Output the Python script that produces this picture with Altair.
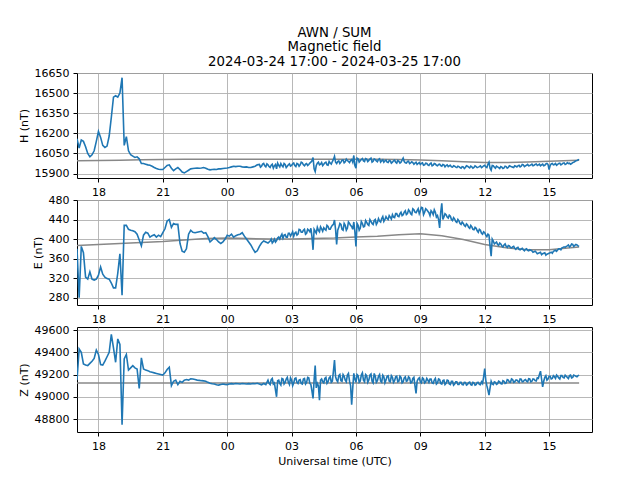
import altair as alt
import pandas as pd

START = "2024-03-24 17:00"
STEP_MIN = 6

H_VALUES = [
    16160, 16090, 16150, 16140, 16100, 16050, 16025, 16040, 16070, 16140,
    16215, 16170, 16110, 16095, 16105, 16180, 16320, 16470, 16480, 16470,
    16500, 16615, 16110, 16175, 16070, 16040, 16030, 16020, 16025, 16010,
    15975, 15975, 15970, 15965, 15962, 15955, 15945, 15938, 15932, 15930,
    15930, 15945, 15960, 15965, 15940, 15922, 15935, 15945, 15930, 15912,
    15905, 15915, 15925, 15935, 15938, 15940, 15942, 15940, 15942, 15945,
    15940, 15932, 15928, 15930, 15932, 15930, 15935, 15935, 15938, 15940,
    15942, 15945, 15950, 15955, 15952, 15955, 15955, 15950, 15948, 15950,
    15945, 15945, 15950, 15955, 15965,
    15968, 15955, 15975, 15950, 15965, 15945, 15970, 15958, 15935, 15962, 15975, 15950, 15968, 15955, 15972,
    15960, 15978, 15952, 15970, 15965, 15980, 15958, 15975, 15968, 15985, 16020, 15915, 15978, 15965, 15982,
    15970, 15985, 15962, 15978, 15990, 16028, 15975, 15995, 15985, 16002, 15988, 15998, 15982, 16005, 16035,
    15940, 16010, 15995, 16012, 15990, 16008, 15998, 16015, 15992, 16005, 15988, 16010, 15995, 15985, 16000,
    15982, 15995, 15985, 16000, 15978, 15992, 15985, 16015, 15980, 15990, 15975, 15988, 15970, 15985, 15975,
    15968, 15980, 15965, 15975, 15960, 15978, 15962, 15972, 15958, 15970, 15955, 15965, 15960, 15952, 15962,
    15948, 15955, 15945, 15952, 15940, 15950, 15945, 15955, 15942, 15950, 15945, 15952, 15948, 15958, 15950,
    15962, 15945, 15985, 15925, 15958, 15940, 15950, 15938, 15948, 15942, 15952, 15945, 15955, 15948, 15958,
    15950, 15962, 15955, 15965, 15958, 15968, 15960, 15970, 15962, 15972, 15965, 15958, 15970, 15962, 15975,
    15930, 15972, 15965, 15975, 15968, 15978, 15970, 15980, 15972, 15975, 15970, 15982, 15990, 15998, 16006,
]
# readings between samples (3 min after sample i), from sample H_MID_START on
H_MID_START = 85
H_MID = [
    15948, 15970, 15958, 15972, 15952, 15962, 15940, 15968, 15978, 15950, 15960, 15975, 15945, 15965, 15955,
    15972, 15960, 15975, 15955, 15985, 15965, 15970, 15960, 15978, 15995, 15935, 15960, 15985, 15970, 15960,
    15980, 15965, 15990, 15970, 16005, 15985, 15990, 15975, 16000, 15980, 16008, 15990, 15998, 15985, 15960,
    16015, 15985, 16005, 15995, 16012, 15990, 16008, 15985, 16010, 15995, 16005, 15985, 16002, 15995, 15985,
    15998, 15978, 15995, 15985, 15998, 15978, 16000, 15990, 15978, 15992, 15980, 15982, 15978, 15968, 15982,
    15975, 15962, 15978, 15965, 15972, 15958, 15975, 15962, 15968, 15960, 15968, 15950, 15965, 15958, 15950,
    15958, 15948, 15955, 15945, 15952, 15938, 15958, 15948, 15955, 15940, 15958, 15945, 15952, 15945, 15958,
    15950, 15970, 15940, 15960, 15948, 15955, 15945, 15952, 15938, 15955, 15940, 15958, 15950, 15945, 15955,
    15958, 15950, 15968, 15952, 15962, 15958, 15965, 15958, 15968, 15960, 15970, 15965, 15958, 15972, 15968,
    15960, 15975, 15968, 15962, 15975, 15965, 15978, 15968, 15982, 15978, 15975, 15985, 15995, 16002,
]

E_VALUES = [
    380, 280, 385, 372, 322, 318, 333, 318, 316, 318,
    326, 343, 328, 322, 319, 318, 310, 300, 300, 330,
    370, 285, 428, 428, 420, 418, 417, 415, 410, 398,
    386, 408, 414, 412, 404, 407, 409, 404, 408, 405,
    413, 421, 437, 440, 424, 432, 430, 430, 391, 375,
    373, 380, 410, 418, 414, 413, 414, 415, 416, 412,
    413, 405, 394, 398, 403, 399, 394, 391, 394, 400,
    408, 406, 410, 404, 407, 409, 410, 413, 406, 400,
    394, 388, 380, 373, 376, 385, 392, 396, 394, 392,
    396, 392, 400, 397, 404, 406, 402, 409, 404, 412, 410, 406, 414, 410, 419,
    414, 420, 412, 418, 422, 378, 416, 424, 415, 421, 423, 418, 426, 420, 428,
    439, 389, 424, 430, 418, 428, 422, 432, 426, 435, 385, 428, 422, 432, 426,
    434, 428, 436, 430, 440, 434, 437, 442, 436, 446, 440, 445, 450, 444, 452,
    446, 455, 450, 458, 452, 457, 450, 460, 454, 462, 458, 464, 455, 460, 454,
    458, 450, 455, 448, 423, 473, 445, 450, 443, 447, 438, 441, 434, 437, 430,
    432, 426, 429, 422, 425, 419, 422, 414, 418, 410, 413, 405, 408, 365, 396,
    392, 389, 392, 386, 388, 385, 387, 383, 384, 381, 382, 379, 380, 378, 379,
    377, 378, 376, 374, 373, 371, 373, 370, 372, 369, 371, 373, 375, 377, 378,
    380, 382, 384, 385, 388, 386, 389, 387, 388, 385,
]
E_MID_START = 90
E_MID = [
    400, 395, 394, 402, 400, 410, 408, 404, 412, 406, 415, 412, 408, 420, 414,
    418, 410, 420, 415, 405, 420, 412, 418, 425, 416, 420, 428, 420, 425, 430,
    420, 418, 432, 420, 432, 418, 435, 428, 420, 415, 432, 418, 436, 425, 438,
    430, 440, 432, 438, 430, 442, 435, 446, 440, 442, 448, 441, 445, 452, 447,
    452, 448, 455, 450, 460, 452, 462, 455, 458, 452, 465, 450, 462, 457, 448,
    455, 460, 445, 440, 455, 440, 452, 445, 449, 440, 444, 436, 440, 432, 435,
    428, 431, 424, 428, 420, 424, 417, 420, 412, 415, 408, 410, 385, 400, 390,
    394, 387, 390, 384, 390, 383, 386, 382, 385, 379, 383, 378, 381, 376, 380,
    376, 377, 373, 375, 370, 372, 368, 371, 367, 370, 372, 371, 376, 375, 380,
    378, 383, 383, 386, 384, 390, 385, 389, 386,
]

Z_VALUES = [
    49150, 49430, 49400, 49295, 49285, 49280, 49300, 49320, 49345, 49420,
    49380, 49290, 49285, 49320, 49360, 49400, 49560, 49440, 49310, 49520,
    49470, 48750, 49340, 49380, 49240, 49260, 49280, 49260, 49250, 49075,
    49350, 49250, 49240, 49235, 49225, 49220, 49215, 49210, 49205, 49200,
    49195, 49215, 49245, 49265, 49100, 49140, 49150, 49110, 49140, 49130,
    49150, 49155, 49150, 49162, 49160, 49155, 49150, 49148, 49145, 49143,
    49140, 49130, 49122, 49118, 49115, 49108, 49105, 49110, 49115, 49112,
    49110, 49115, 49118, 49115, 49120, 49118, 49115, 49120, 49118, 49115,
    49118, 49115, 49120, 49118, 49122, 49115, 49108, 49120, 49110,
    49150, 49110, 49165, 49125, 49000, 49150, 49105, 49160, 49130, 49175, 49110, 49150, 49125, 49170, 49120,
    49155, 49115, 49165, 49130, 49170, 49110, 48985, 49280, 49120, 48970, 49160, 49125, 49175, 49135, 49180,
    49140, 49330, 49150, 49190, 49145, 49200, 49150, 49195, 49140, 48930, 49210, 49130, 49190, 49140, 49215,
    49135, 49190, 49150, 49205, 49125, 49185, 49145, 49200, 49130, 49180, 49150, 49190, 49135, 49175, 49145,
    49185, 49140, 49175, 49135, 49180, 49145, 49170, 49130, 49175, 49030, 49160, 49135, 49170, 49125, 49165,
    49130, 49160, 49120, 49165, 49125, 49155, 49115, 49150, 49120, 49145, 49110, 49140, 49115, 49135, 49110,
    49130, 49108, 49128, 49112, 49132, 49105, 49125, 49110, 49130, 49108, 49120, 49254, 49100, 49015, 49140,
    49110, 49130, 49118, 49135, 49115, 49140, 49125, 49150, 49130, 49155, 49135, 49150, 49130, 49158, 49138,
    49155, 49135, 49160, 49140, 49158, 49142, 49165, 49230, 49090, 49175, 49150, 49185, 49160, 49190, 49165,
    49185, 49160, 49190, 49170, 49185, 49165, 49195, 49175, 49190, 49180, 49195,
]
Z_MID_START = 89
Z_MID = [
    49120, 49155, 49115, 49060, 49145, 49120, 49165, 49115, 49160, 49130, 49170, 49100, 49165, 49130, 49150,
    49120, 49160, 49115, 49175, 49120, 49050, 49150, 49080, 49100, 49150, 49135, 49165, 49120, 49170, 49130,
    49230, 49180, 49135, 49200, 49140, 49185, 49135, 49210, 49100, 49080, 49160, 49200, 49130, 49195, 49150,
    49200, 49130, 49195, 49140, 49210, 49130, 49185, 49140, 49195, 49125, 49185, 49140, 49190, 49130, 49180,
    49135, 49185, 49125, 49170, 49140, 49180, 49125, 49165, 49100, 49140, 49170, 49125, 49160, 49135, 49150,
    49160, 49125, 49150, 49115, 49160, 49120, 49145, 49110, 49150, 49115, 49140, 49105, 49135, 49110, 49130,
    49110, 49130, 49105, 49128, 49110, 49130, 49105, 49128, 49112, 49135, 49180, 49150, 49060, 49080, 49115,
    49135, 49112, 49140, 49118, 49145, 49120, 49155, 49132, 49160, 49130, 49150, 49140, 49160, 49135, 49150,
    49140, 49162, 49135, 49160, 49145, 49170, 49200, 49160, 49140, 49190, 49160, 49185, 49165, 49180, 49195,
    49170, 49190, 49175, 49195, 49175, 49190, 49170, 49195, 49185, 49190,
]

BASE_TIMES = [
    "2024-03-24T17:00:00Z", "2024-03-24T18:00:00Z", "2024-03-24T19:00:00Z",
    "2024-03-24T20:00:00Z", "2024-03-24T21:00:00Z", "2024-03-24T22:00:00Z",
    "2024-03-24T23:00:00Z", "2024-03-25T00:00:00Z", "2024-03-25T01:00:00Z",
    "2024-03-25T02:00:00Z", "2024-03-25T03:00:00Z", "2024-03-25T04:00:00Z",
    "2024-03-25T05:00:00Z", "2024-03-25T06:00:00Z", "2024-03-25T07:00:00Z",
    "2024-03-25T08:00:00Z", "2024-03-25T09:00:00Z", "2024-03-25T10:00:00Z",
    "2024-03-25T11:00:00Z", "2024-03-25T12:00:00Z", "2024-03-25T13:00:00Z",
    "2024-03-25T14:00:00Z", "2024-03-25T15:00:00Z", "2024-03-25T16:00:00Z",
    "2024-03-25T16:24:00Z",
]
H_BASE = [15995, 15998, 16000, 16003, 16005, 16006, 16006, 16006, 16006,
          16006, 16006, 16006, 16006, 16006, 16006, 16005, 16002, 15995,
          15988, 15982, 15982, 15986, 15992, 15998, 16000]
E_BASE = [387, 389, 391, 393, 395, 398, 401, 402, 401, 400, 400, 401, 402,
          404, 406, 409, 411, 407, 399, 389, 382, 378, 378, 382, 384]
Z_BASE = [49125] * 25

H_TICKS = [15900, 16050, 16200, 16350, 16500, 16650]
E_TICKS = [280, 320, 360, 400, 440, 480]
Z_TICKS = [48800, 49000, 49200, 49400, 49600]
X_TICK_HOURS = [(24, 18), (24, 21), (25, 0), (25, 3), (25, 6), (25, 9), (25, 12), (25, 15)]

H_DOMAIN = [15867, 16650]
E_DOMAIN = [265, 480]
Z_DOMAIN = [48684, 49627]

TITLE = ["AWN / SUM", "Magnetic field", "2024-03-24 17:00 - 2024-03-25 17:00"]
X_TITLE = "Universal time (UTC)"

FONT = "DejaVu Sans"
W, H = 515, 105


def series(values, mid, mid_start):
    t0 = pd.Timestamp(START)
    step = pd.Timedelta(minutes=STEP_MIN)
    half = pd.Timedelta(minutes=STEP_MIN / 2)
    rows = [(t0 + i * step, v) for i, v in enumerate(values)]
    rows += [(t0 + (mid_start + j) * step + half, v) for j, v in enumerate(mid)]
    df = pd.DataFrame(rows, columns=["ts", "v"]).sort_values("ts")
    df["t"] = df["ts"].dt.strftime("%Y-%m-%dT%H:%M:%SZ")
    return df[["t", "v"]].reset_index(drop=True)


x_domain = [alt.DateTime(year=2024, month=3, date=24, hours=17, utc=True),
            alt.DateTime(year=2024, month=3, date=25, hours=17, utc=True)]
x_values = [alt.DateTime(year=2024, month=3, date=d, hours=h, utc=True) for d, h in X_TICK_HOURS]


def panel(df, base, ytitle, domain, ticks, xtitle=None, title=None):
    dfb = pd.DataFrame({"t": BASE_TIMES, "v": base})
    x = alt.X("t:T",
              scale=alt.Scale(type="utc", domain=x_domain),
              axis=alt.Axis(format="%H", values=x_values, labelFlush=False, titlePadding=4),
              title=xtitle)
    y = alt.Y("v:Q",
              scale=alt.Scale(domain=domain, nice=False, zero=False),
              axis=alt.Axis(values=ticks, format="d", titlePadding=5),
              title=ytitle)
    gray = alt.Chart(dfb).mark_line(color="#888888", strokeWidth=1.5, clip=True).encode(x=x, y=y)
    blue = alt.Chart(df).mark_line(color="#1f77b4", strokeWidth=1.6, clip=True).encode(x=x, y=y)
    props = dict(width=W, height=H)
    if title is not None:
        props["title"] = alt.TitleParams(text=title, anchor="middle", frame="group", offset=-1,
                                         font=FONT, fontSize=13.3, fontWeight="normal",
                                         color="black", lineHeight=14.5)
    return alt.layer(gray, blue).properties(**props)


p1 = panel(series(H_VALUES, H_MID, H_MID_START), H_BASE, "H (nT)", H_DOMAIN, H_TICKS, title=TITLE)
p2 = panel(series(E_VALUES, E_MID, E_MID_START), E_BASE, "E (nT)", E_DOMAIN, E_TICKS)
p3 = panel(series(Z_VALUES, Z_MID, Z_MID_START), Z_BASE, "Z (nT)", Z_DOMAIN, Z_TICKS, xtitle=X_TITLE)

chart = alt.vconcat(p1, p2, p3, spacing=22, bounds="flush").properties(
    padding={"left": 9, "top": 17, "right": 5, "bottom": 5}
).configure_axis(
    labelFont=FONT, labelFontSize=11, labelColor="black",
    titleFont=FONT, titleFontSize=11, titleFontWeight="normal", titleColor="black",
    tickColor="black", tickSize=4, tickWidth=1, labelPadding=4,
    gridColor="#b0b0b0", gridWidth=0.9, domain=False,
).configure_view(stroke="black", strokeWidth=1)

chart.save("out.html", embed_options={"renderer": "svg", "actions": False})
